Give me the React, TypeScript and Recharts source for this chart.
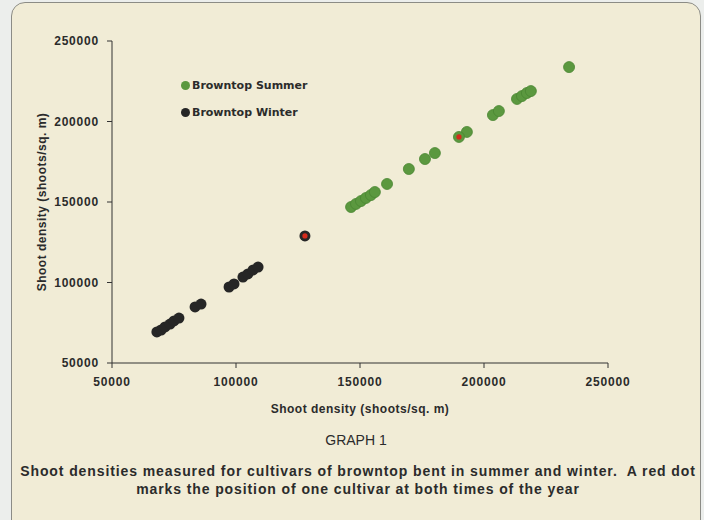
import React from 'react';
import {
  ScatterChart,
  Scatter,
  XAxis,
  YAxis,
  Legend,
} from 'recharts';

// shoot density readings (shoots/sq. m), x and y per cultivar
const markedWinter = { x: 127800, y: 128900 };
const markedSummer = { x: 189900, y: 190400 };

const winterX = [68100, 69800, 71400, 73400, 75000, 77000, 83500, 85900, 97200, 99200, 102800, 104800, 106900, 108900];
const winterY = [69300, 70500, 72400, 74200, 76100, 77900, 84800, 86600, 97200, 99100, 103400, 105300, 107800, 109600];

const summerX = [146400, 148400, 150400, 152400, 154400, 156000, 160900, 169700, 176200, 180200, 193100, 203600, 206000, 213300, 215300, 217300, 218900, 234300];
const summerY = [146900, 148800, 150600, 152500, 154300, 156200, 161200, 170500, 176700, 180400, 193500, 204000, 206500, 214000, 215800, 217700, 218900, 233800];

const axisTicks = [50000, 100000, 150000, 200000, 250000];

const winterData = [...winterX.map((x, i) => ({ x, y: winterY[i] })), markedWinter];
const summerData = [...summerX.map((x, i) => ({ x, y: summerY[i] })), markedSummer];
const markedData = [markedWinter, markedSummer];

const GREEN = '#5b983f';
const BLACK = '#262626';
const RED = '#d42a1c';

const dot = (fill: string, r: number, stroke?: string) => (props: any) => (
  <circle cx={props.cx} cy={props.cy} r={r} fill={fill} stroke={stroke || 'none'} strokeWidth={stroke ? 0.8 : 0} />
);

const tickStyle = {
  fill: '#2b2b2b',
  fontSize: 12,
  fontWeight: 700,
  fontFamily: '"Liberation Sans", Arial, sans-serif',
  letterSpacing: 0.8,
};

const LegendBox = () => (
  <div style={{ fontFamily: '"DejaVu Sans", Verdana, sans-serif', fontWeight: 700, fontSize: 11, color: '#2b2b2b' }}>
    {[
      { name: 'Browntop Summer', color: GREEN },
      { name: 'Browntop Winter', color: BLACK },
    ].map((e) => (
      <div key={e.name} style={{ display: 'flex', alignItems: 'center', height: 27 }}>
        <span style={{ width: 9, height: 9, borderRadius: '50%', background: e.color, display: 'inline-block', marginRight: 2 }} />
        {e.name}
      </div>
    ))}
  </div>
);

export default function App() {
  return (
    <div style={{ position: 'absolute', left: 0, top: 0, width: 704, height: 520, background: '#eceeec', overflow: 'hidden' }}>
      <div
        style={{
          position: 'absolute',
          left: 11,
          top: 2,
          width: 688,
          height: 530,
          border: '1px solid #8c8c86',
          borderRadius: 14,
          background: '#f1ecd6',
        }}
      />
      <div style={{ position: 'absolute', left: 0, top: 0 }}>
        <ScatterChart width={704} height={430} margin={{ top: 41, right: 96, bottom: 7, left: 0 }}>
          <XAxis
            type="number"
            dataKey="x"
            domain={[50000, 250000]}
            ticks={axisTicks}
            allowDataOverflow
            height={60}
            stroke="#333"
            tickSize={5}
            tickMargin={9}
            tick={tickStyle}
            label={{
              value: 'Shoot density (shoots/sq. m)',
              position: 'insideBottom',
              offset: 10,
              style: { ...tickStyle, letterSpacing: 0.5, fontSize: 12 },
            }}
          />
          <YAxis
            type="number"
            dataKey="y"
            domain={[50000, 250000]}
            ticks={axisTicks}
            allowDataOverflow
            width={112}
            stroke="#333"
            tickSize={5}
            tickMargin={8}
            tick={tickStyle}
            label={{
              value: 'Shoot density (shoots/sq. m)',
              angle: -90,
              position: 'insideLeft',
              offset: 42,
              style: { ...tickStyle, letterSpacing: 0.5, textAnchor: 'middle' },
            }}
          />
          <Legend
            layout="vertical"
            align="center"
            verticalAlign="middle"
            content={<LegendBox />}
            wrapperStyle={{ left: 181, top: 72, width: 200 }}
          />
          <Scatter name="Browntop Summer" data={summerData} fill={GREEN} shape={dot(GREEN, 5.5, '#4a8632')} isAnimationActive={false} />
          <Scatter name="Browntop Winter" data={winterData} fill={BLACK} shape={dot(BLACK, 5.5)} isAnimationActive={false} />
          <Scatter name="marked" data={markedData} fill={RED} shape={dot(RED, 2.6)} legendType="none" isAnimationActive={false} />
        </ScatterChart>
      </div>
      <div
        style={{
          position: 'absolute',
          left: 11,
          width: 702,
          top: 432,
          textAlign: 'center',
          fontFamily: '"Liberation Sans", Arial, sans-serif',
          color: '#2b2b2b',
        }}
      >
        <div style={{ fontSize: 14, marginLeft: -12 }}>GRAPH 1</div>
      </div>
      <div
        style={{
          position: 'absolute',
          left: 8,
          width: 700,
          top: 462,
          textAlign: 'center',
          fontFamily: '"Liberation Sans", Arial, sans-serif',
          fontWeight: 700,
          fontSize: 14,
          letterSpacing: 0.9,
          lineHeight: '18px',
          color: '#2b2b2b',
        }}
      >
        Shoot densities measured for cultivars of browntop bent in summer and winter.&nbsp; A red dot
        <br />
        marks the position of one cultivar at both times of the year
      </div>
    </div>
  );
}
